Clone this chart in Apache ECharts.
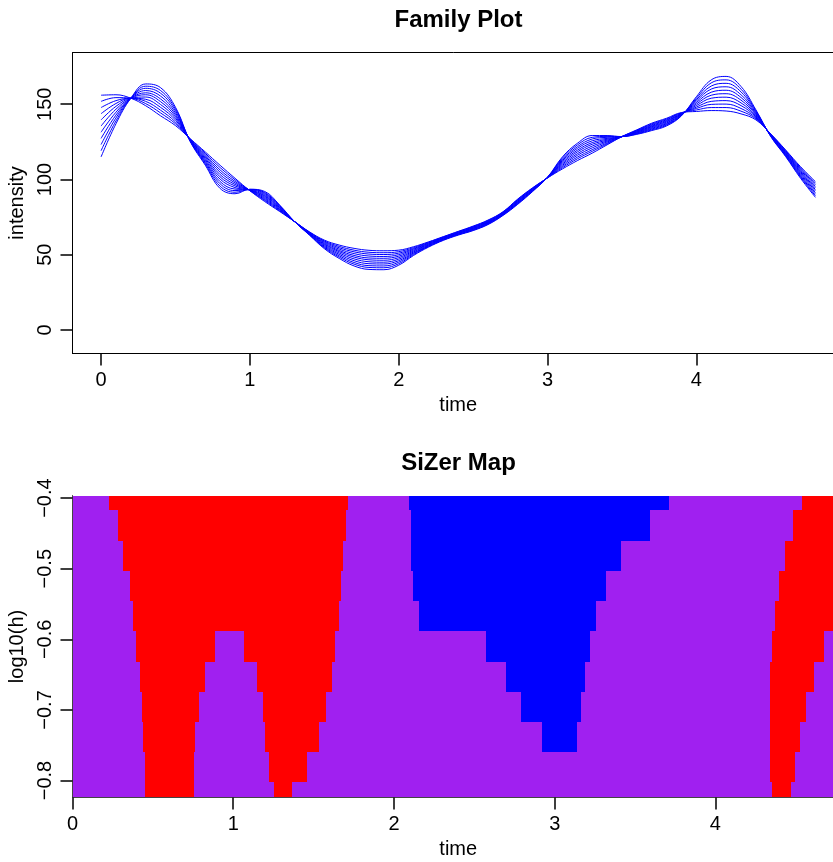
<!DOCTYPE html>
<html>
<head>
<meta charset="utf-8">
<title>Family Plot / SiZer Map</title>
<script src="https://cdn.jsdelivr.net/npm/echarts@6/dist/echarts.min.js"></script>
<style>
  html, body { margin: 0; padding: 0; background: #fff; }
  #chart { width: 833px; height: 862px; }
</style>
</head>
<body>
<div id="chart"></div>
<script>
// time grid of the family plot
const times = [0, 0.1, 0.2, 0.3, 0.4, 0.5, 0.6, 0.7, 0.8, 0.9, 1, 1.1, 1.2, 1.3, 1.4, 1.5, 1.6, 1.7, 1.8, 1.9,
  2, 2.1, 2.2, 2.3, 2.4, 2.5, 2.6, 2.7, 2.8, 2.9, 3, 3.1, 3.2, 3.3, 3.4, 3.5, 3.6, 3.7, 3.8, 3.9,
  4, 4.1, 4.2, 4.3, 4.4, 4.5, 4.6, 4.7, 4.8];

// one smooth per bandwidth, smallest h first
const fam0 = [115, 137, 154, 163.5, 161, 148, 125, 109.5, 94, 90.5, 93.5, 92, 83, 72, 63, 54, 47.5, 42.5, 40.2, 40,
  43, 49.5, 55, 59.5, 63, 66, 70, 76, 83.5, 92, 101.5, 115, 124, 129.2, 129.2, 128.5, 130, 132.5, 135.6, 142.3,
  155, 166.2, 168.5, 161.8, 146.3, 128.5, 115.2, 100.8, 88.1];
const fam1 = [119.1, 138.9, 154, 162, 159.1, 146.8, 125.2, 110.4, 95.5, 91.5, 93.4, 91.3, 82.6, 72, 63.2, 54.6, 48.4, 43.7, 41.5, 41.3,
  44, 50.1, 55.4, 59.8, 63.3, 66.3, 70.3, 76.3, 83.9, 92.3, 101.5, 114.2, 122.9, 128, 128.6, 128.5, 130.3, 133, 136.1, 142.5,
  154, 164.2, 166.2, 160, 145.6, 128.7, 115.6, 101.6, 89.1];
const fam2 = [123.2, 140.9, 154, 160.6, 157.3, 145.6, 125.4, 111.3, 97.1, 92.6, 93.3, 90.7, 82.1, 72, 63.4, 55.1, 49.3, 44.8, 42.7, 42.5,
  45, 50.7, 55.7, 60, 63.5, 66.6, 70.6, 76.5, 84.2, 92.5, 101.4, 113.4, 121.7, 126.9, 128, 128.5, 130.6, 133.5, 136.6, 142.7,
  153, 162.1, 163.9, 158.2, 145, 128.9, 116.1, 102.3, 90.2];
const fam3 = [127.3, 142.8, 154, 159.1, 155.4, 144.3, 125.6, 112.1, 98.6, 93.6, 93.2, 90, 81.7, 72, 63.7, 55.7, 50.2, 46, 44, 43.8,
  46, 51.2, 56.1, 60.3, 63.8, 66.9, 70.9, 76.8, 84.6, 92.8, 101.4, 112.6, 120.6, 125.7, 127.3, 128.5, 130.9, 134, 137.1, 143,
  152.1, 160.1, 161.6, 156.3, 144.3, 129, 116.5, 103.1, 91.2];
const fam4 = [131.4, 144.7, 154, 157.6, 153.5, 143.1, 125.8, 113, 100.2, 94.6, 93.1, 89.3, 81.3, 72, 63.9, 56.3, 51.1, 47.2, 45.3, 45,
  47, 51.8, 56.4, 60.5, 64, 67.2, 71.2, 77, 84.9, 93, 101.3, 111.8, 119.4, 124.5, 126.7, 128.5, 131.2, 134.5, 137.6, 143.2,
  151.1, 158, 159.3, 154.5, 143.6, 129.2, 117, 103.9, 92.3];
const fam5 = [135.5, 146.7, 154, 156.3, 151.7, 141.9, 126, 113.9, 101.7, 95.7, 93, 88.7, 80.9, 72, 64.1, 56.9, 52, 48.4, 46.6, 46.3,
  48, 52.4, 56.8, 60.8, 64.3, 67.5, 71.5, 77.3, 85.3, 93.3, 101.3, 111, 118.3, 123.4, 126.1, 128.5, 131.5, 135, 138.2, 143.4,
  150.1, 156, 157, 152.7, 143, 129.4, 117.4, 104.7, 93.3];
const fam6 = [139.6, 148.6, 154, 154.8, 149.8, 140.7, 126.2, 114.8, 103.2, 96.7, 92.9, 88, 80.4, 72, 64.3, 57.4, 52.8, 49.5, 47.8, 47.6,
  49, 53, 57.1, 61, 64.5, 67.8, 71.8, 77.5, 85.6, 93.5, 101.2, 110.2, 117.1, 122.2, 125.5, 128.5, 131.8, 135.4, 138.7, 143.6,
  149.1, 154, 154.7, 150.9, 142.3, 129.6, 117.8, 105.4, 94.3];
const fam7 = [143.7, 150.5, 154, 153.3, 147.9, 139.5, 126.4, 115.7, 104.8, 97.7, 92.8, 87.3, 80, 72, 64.5, 58, 53.7, 50.7, 49.1, 48.8,
  50, 53.6, 57.5, 61.3, 64.8, 68.1, 72.1, 77.8, 86, 93.8, 101.2, 109.4, 116, 121, 124.9, 128.5, 132.1, 135.9, 139.2, 143.8,
  148.1, 151.9, 152.4, 149.1, 141.6, 129.8, 118.3, 106.2, 95.4];
const fam8 = [147.8, 152.4, 154, 151.9, 146, 138.2, 126.6, 116.5, 106.3, 98.7, 92.7, 86.6, 79.6, 72, 64.8, 58.6, 54.6, 51.9, 50.4, 50.1,
  51, 54.1, 57.8, 61.5, 65, 68.4, 72.4, 78, 86.3, 94, 101.1, 108.6, 114.8, 119.8, 124.2, 128.5, 132.4, 136.4, 139.7, 144.1,
  147.2, 149.9, 150.1, 147.2, 140.9, 129.9, 118.7, 107, 96.4];
const fam9 = [151.9, 154.4, 154, 150.4, 144.2, 137, 126.8, 117.4, 107.9, 99.8, 92.6, 86, 79.1, 72, 65, 59.1, 55.5, 53, 51.6, 51.3,
  52, 54.7, 58.2, 61.8, 65.3, 68.7, 72.7, 78.3, 86.7, 94.3, 101.1, 107.8, 113.7, 118.7, 123.6, 128.5, 132.7, 136.9, 140.2, 144.3,
  146.2, 147.8, 147.8, 145.4, 140.3, 130.1, 119.2, 107.7, 97.5];
const fam10 = [156, 156.3, 154, 149, 142.3, 135.8, 127, 118.3, 109.4, 100.8, 92.5, 85.3, 78.7, 72, 65.2, 59.7, 56.4, 54.2, 52.9, 52.6,
  53, 55.3, 58.5, 62, 65.5, 69, 73, 78.5, 87, 94.5, 101, 107, 112.5, 117.5, 123, 128.5, 133, 137.4, 140.7, 144.5,
  145.2, 145.8, 145.5, 143.6, 139.6, 130.3, 119.6, 108.5, 98.5];
const familyCurves = [fam0, fam1, fam2, fam3, fam4, fam5, fam6, fam7, fam8, fam9, fam10];

// tick labels
const timeTicks = [0, 1, 2, 3, 4];
const intensityTicks = [0, 50, 100, 150];
const logHTicks = [-0.8, -0.7, -0.6, -0.5, -0.4];

// SiZer map: one row per log10(h), top row first
const logH = [-0.396, -0.439, -0.482, -0.525, -0.567, -0.610, -0.653, -0.696, -0.739, -0.781, -0.824];
// where the colour changes along time, and the colour of each stretch
// p = not significant, r = significantly decreasing, b = significantly increasing
const rowBreaks = [
  [0, 0.226, 1.711, 2.092, 3.709, 4.537, 4.8],
  [0, 0.282, 1.700, 2.105, 3.591, 4.481, 4.8],
  [0, 0.317, 1.686, 2.105, 3.411, 4.431, 4.8],
  [0, 0.355, 1.673, 2.117, 3.318, 4.394, 4.8],
  [0, 0.379, 1.661, 2.154, 3.255, 4.369, 4.8],
  [0, 0.394, 0.885, 1.064, 1.636, 2.571, 3.218, 4.350, 4.674, 4.8],
  [0, 0.419, 0.823, 1.148, 1.613, 2.696, 3.187, 4.338, 4.612, 4.8],
  [0, 0.431, 0.786, 1.186, 1.576, 2.789, 3.162, 4.338, 4.562, 4.8],
  [0, 0.437, 0.761, 1.198, 1.532, 2.919, 3.137, 4.338, 4.524, 4.8],
  [0, 0.450, 0.755, 1.223, 1.458, 4.338, 4.493, 4.8],
  [0, 0.450, 0.755, 1.252, 1.365, 4.350, 4.468, 4.8]
];
const rowFlags = ['prpbpr', 'prpbpr', 'prpbpr', 'prpbpr', 'prpbpr',
  'prprpbprp', 'prprpbprp', 'prprpbprp', 'prprpbprp', 'prprprp', 'prprprp'];

const flagCodes = { p: 0, r: 1, b: 2 };
const mapColors = ['#A020F0', '#FF0000', '#0000FF'];
const font = '"Liberation Sans", Arial, Helvetica, sans-serif';

const cells = [];
rowBreaks.forEach((breaks, i) => {
  for (let j = 0; j < breaks.length - 1; j++) {
    cells.push([breaks[j], breaks[j + 1], logH[i], flagCodes[rowFlags[i][j]]]);
  }
});
const cellHalf = (logH[0] - logH[1]) / 2;

function renderCell(params, api) {
  const p0 = api.coord([api.value(0), api.value(2) + cellHalf]);
  const p1 = api.coord([api.value(1), api.value(2) - cellHalf]);
  // snap to whole pixels so neighbouring cells meet without seams
  const x0 = Math.round(p0[0]), y0 = Math.round(p0[1]);
  const x1 = Math.round(p1[0]), y1 = Math.round(p1[1]);
  const cs = params.coordSys;
  const shape = echarts.graphic.clipRectByRect(
    { x: x0, y: y0, width: x1 - x0, height: y1 - y0 },
    { x: Math.round(cs.x), y: Math.round(cs.y), width: Math.round(cs.width), height: Math.round(cs.height) }
  );
  return shape && { type: 'rect', shape: shape, style: { fill: mapColors[api.value(3)] } };
}

const labelStyle = { fontSize: 20, fontFamily: font, color: '#000', lineHeight: 20 };
const tickStyle = { show: true, length: 12, lineStyle: { color: '#000', width: 1.5 } };

const chart = echarts.init(document.getElementById('chart'), null, { renderer: 'canvas' });
chart.setOption({
  animation: false,
  backgroundColor: '#fff',
  graphic: [
    { type: 'text', x: 458.5, y: 20.5,
      style: { text: 'Family Plot', font: 'bold 24px ' + font, fill: '#000', textAlign: 'center', textVerticalAlign: 'middle' } },
    { type: 'text', x: 458.5, y: 463.5,
      style: { text: 'SiZer Map', font: 'bold 24px ' + font, fill: '#000', textAlign: 'center', textVerticalAlign: 'middle' } }
  ],
  grid: [
    { left: 72.5, top: 52.5, width: 771.5, height: 301, show: true, borderColor: '#000', borderWidth: 1,
      backgroundColor: 'transparent', outerBoundsMode: 'none' },
    { left: 72.5, top: 495.5, width: 771.5, height: 302, outerBoundsMode: 'none' }
  ],
  xAxis: [
    {
      gridIndex: 0, type: 'value', min: -0.192, max: 4.992,
      axisLine: { show: true, onZero: false, lineStyle: { color: '#000' } },
      axisTick: Object.assign({ customValues: timeTicks }, tickStyle),
      axisLabel: Object.assign({ customValues: timeTicks, margin: 17 }, labelStyle),
      splitLine: { show: false },
      name: 'time', nameLocation: 'middle', nameGap: 42, nameTextStyle: labelStyle
    },
    {
      gridIndex: 1, type: 'value', min: 0, max: 4.8, z: 5,
      axisLine: { show: true, onZero: false, lineStyle: { color: '#444' } },
      axisTick: Object.assign({ customValues: timeTicks }, tickStyle),
      axisLabel: Object.assign({ customValues: timeTicks, margin: 17 }, labelStyle),
      splitLine: { show: false },
      name: 'time', nameLocation: 'middle', nameGap: 42, nameTextStyle: labelStyle
    }
  ],
  yAxis: [
    {
      gridIndex: 0, type: 'value', min: -15.7, max: 184.4,
      axisLine: { show: true, onZero: false, lineStyle: { color: '#000' } },
      axisTick: Object.assign({ customValues: intensityTicks }, tickStyle),
      axisLabel: Object.assign({ customValues: intensityTicks, margin: 17, rotate: 90 }, labelStyle),
      splitLine: { show: false },
      name: 'intensity', nameLocation: 'middle', nameGap: 42, nameTextStyle: labelStyle
    },
    {
      gridIndex: 1, type: 'value', min: -0.824, max: -0.3963, z: 5,
      axisLine: { show: true, onZero: false, lineStyle: { color: '#444' } },
      axisTick: Object.assign({ customValues: logHTicks }, tickStyle),
      axisLabel: Object.assign({ customValues: logHTicks, margin: 17, rotate: 90,
        formatter: v => String(Math.round(v * 10) / 10).replace('-', '\u2212') }, labelStyle),
      splitLine: { show: false },
      name: 'log10(h)', nameLocation: 'middle', nameGap: 42, nameTextStyle: labelStyle
    }
  ],
  series: familyCurves.map((curve, k) => ({
    name: 'h' + k,
    type: 'line',
    xAxisIndex: 0,
    yAxisIndex: 0,
    data: times.map((t, i) => [t, curve[i]]),
    smooth: 0.4,
    symbol: 'none',
    lineStyle: { color: '#0000FF', width: 1 },
    silent: true
  })).concat([{
    type: 'custom',
    xAxisIndex: 1,
    yAxisIndex: 1,
    renderItem: renderCell,
    encode: { x: [0, 1], y: 2 },
    data: cells,
    silent: true
  }])
});
</script>
</body>
</html>
